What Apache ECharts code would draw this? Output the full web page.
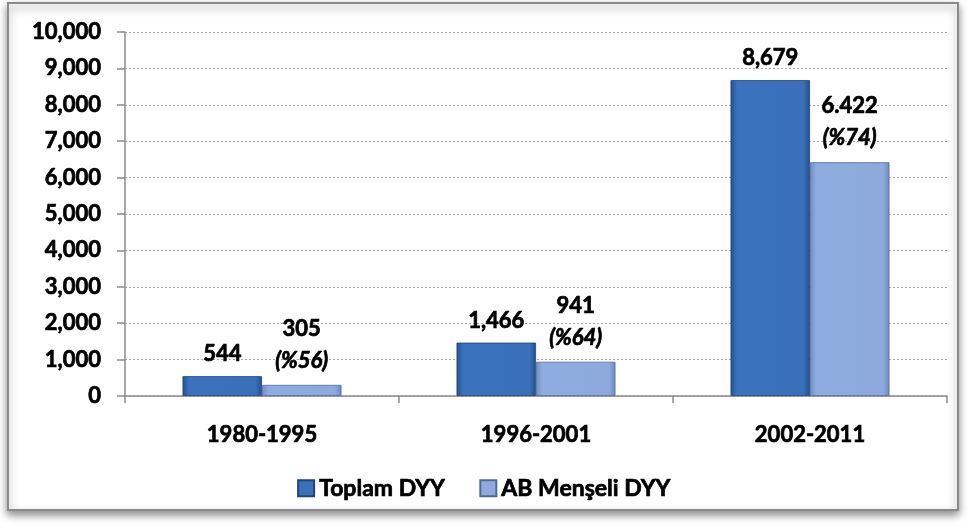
<!DOCTYPE html>
<html>
<head>
<meta charset="utf-8">
<script src="https://cdn.jsdelivr.net/npm/echarts@6/dist/echarts.min.js"></script>
<style>
  html, body { margin: 0; padding: 0; background: #fff; }
  #main { width: 968px; height: 529px; }
</style>
</head>
<body>
<div id="main"></div>
<script>
// data
var categories = ['1980-1995', '1996-2001', '2002-2011']
var toplam = [544, 1466, 8679]
var abMenseli = [305, 941, 6422]
var abText = ['305', '941', '6.422']   // as written in the original
var abShare = [56, 64, 74]             // % of total
var seriesNames = ['Toplam DYY', 'AB Menşeli DYY']

var font = 'Lato, "Noto Sans", sans-serif'
// a thin stroke makes Lato bold look closer to the heavy original
var txt = { fontWeight: 'bold', color: '#000', fontFamily: font, textBorderColor: '#000', textBorderWidth: 0.7 }

var darkFill = new echarts.graphic.LinearGradient(0, 0, 1, 0, [
  { offset: 0, color: '#24508d' },
  { offset: 0.08, color: '#3a72be' },
  { offset: 0.92, color: '#3a70ba' },
  { offset: 1, color: '#234e8a' }
])
var lightFill = new echarts.graphic.LinearGradient(0, 0, 1, 0, [
  { offset: 0, color: '#6f8cc0' },
  { offset: 0.08, color: '#8eacdf' },
  { offset: 0.92, color: '#8eaadc' },
  { offset: 1, color: '#6d89bc' }
])

var chart = echarts.init(document.getElementById('main'))

var option = {
  animation: false,
  textStyle: { fontFamily: font },
  graphic: [{
    type: 'rect',
    z: -10,
    shape: { x: 8, y: 3, width: 950, height: 507 },
    style: {
      fill: '#fff',
      stroke: '#8a8a8a',
      lineWidth: 2,
      shadowBlur: 8,
      shadowOffsetY: 4,
      shadowColor: 'rgba(0,0,0,0.45)'
    }
  }],
  grid: { left: 125, right: 21, top: 32, bottom: 133 },
  legend: {
    data: seriesNames,
    bottom: 24,
    left: 'center',
    icon: 'rect',
    itemWidth: 16,
    itemHeight: 16,
    itemGap: 34,
    textStyle: Object.assign({ fontSize: 23 }, txt)
  },
  xAxis: {
    type: 'category',
    data: categories,
    axisLine: { lineStyle: { color: '#8c8c8c', width: 1.5 } },
    axisTick: { show: true, length: 7, lineStyle: { color: '#8c8c8c', width: 1.5 } },
    axisLabel: Object.assign({ margin: 28, fontSize: 22 }, txt)
  },
  yAxis: {
    type: 'value',
    min: 0,
    max: 10000,
    interval: 1000,
    axisLine: { show: true, lineStyle: { color: '#8c8c8c', width: 1.5 } },
    axisTick: { show: true, length: 8, lineStyle: { color: '#8c8c8c', width: 1.5 } },
    axisLabel: Object.assign({
      margin: 24,
      fontSize: 22,
      formatter: function (v) { return v.toLocaleString('en-US') }
    }, txt),
    splitLine: { lineStyle: { color: '#a6a6a6', type: [2, 2], width: 1 } }
  },
  series: [{
    name: seriesNames[0],
    type: 'bar',
    data: toplam,
    barGap: '0%',
    barCategoryGap: '42%',
    itemStyle: { color: darkFill, borderColor: '#1f4478', borderWidth: 0.8 },
    label: Object.assign({
      show: true,
      position: 'top',
      distance: 11,
      fontSize: 22,
      formatter: function (p) { return p.value.toLocaleString('en-US') }
    }, txt)
  }, {
    name: seriesNames[1],
    type: 'bar',
    data: abMenseli,
    itemStyle: { color: lightFill, borderColor: '#4f6a9a', borderWidth: 0.8 },
    label: {
      show: true,
      position: 'top',
      distance: 8,
      formatter: function (p) {
        return '{a|' + abText[p.dataIndex] + '}\n{b|(%' + abShare[p.dataIndex] + ')}'
      },
      rich: {
        a: Object.assign({ fontSize: 22, lineHeight: 32 }, txt),
        b: Object.assign({ fontSize: 22, fontStyle: 'italic', lineHeight: 32 }, txt)
      }
    }
  }]
}

chart.setOption(option)
</script>
</body>
</html>
